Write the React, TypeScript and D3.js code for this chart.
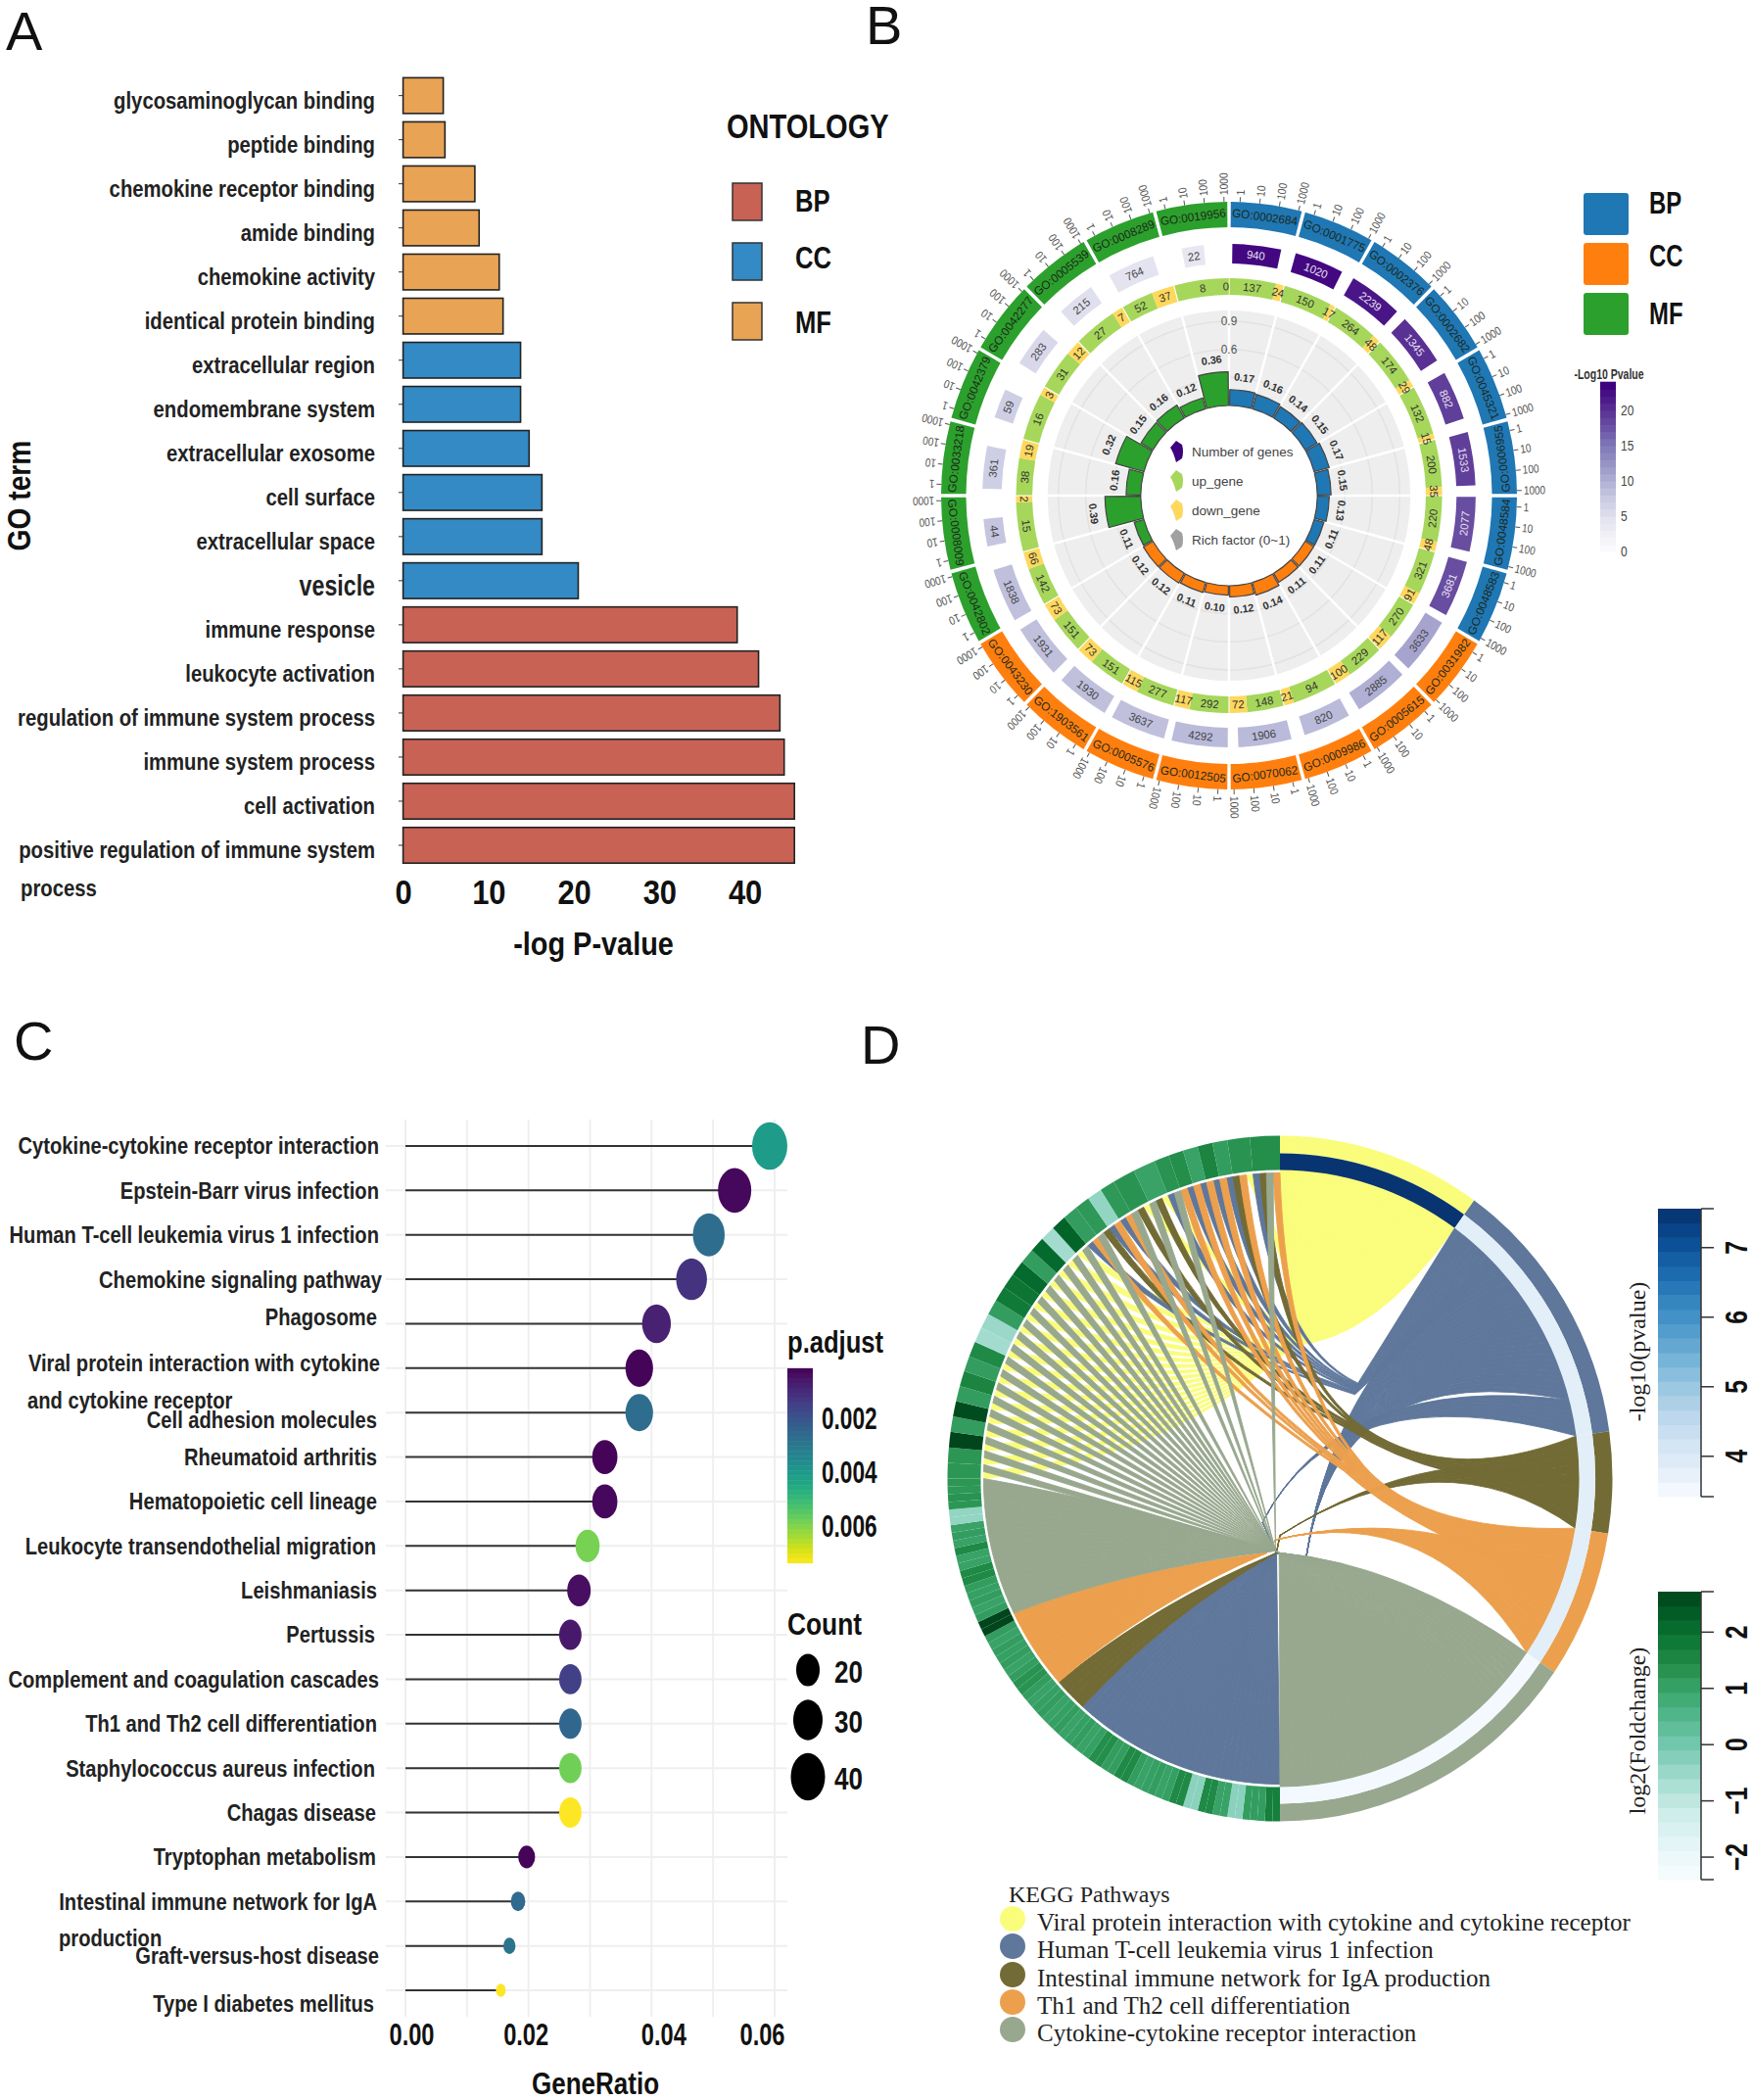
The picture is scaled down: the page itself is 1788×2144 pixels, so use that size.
import React, { useEffect, useRef } from "react";
import * as d3 from "d3";

// ---- panel A ----
const goTerms = [
  "glycosaminoglycan binding", "peptide binding", "chemokine receptor binding", "amide binding",
  "chemokine activity", "identical protein binding", "extracellular region", "endomembrane system",
  "extracellular exosome", "cell surface", "extracellular space", "vesicle", "immune response",
  "leukocyte activation", "regulation of immune system process", "immune system process",
  "cell activation", "positive regulation of immune system",
];
const goLogP = [4.7, 4.9, 8.4, 8.9, 11.25, 11.7, 13.75, 13.75, 14.75, 16.25, 16.25, 20.5, 39.1, 41.6, 44.1, 44.6, 45.8, 45.8];
const goOntology = ["MF", "MF", "MF", "MF", "MF", "MF", "CC", "CC", "CC", "CC", "CC", "CC", "BP", "BP", "BP", "BP", "BP", "BP"];
const ontologyNames = ["BP", "CC", "MF"];
const ontologyColorsA = ["#c86255", "#338ac4", "#e9a354"];

// ---- panel B ----
const circleIds = [
  "GO:0002684", "GO:0001775", "GO:0002376", "GO:0002682", "GO:0045321", "GO:0006955", "GO:0048584", "GO:0048583",
  "GO:0031982", "GO:0005615", "GO:0009986", "GO:0070062", "GO:0012505", "GO:0005576", "GO:1903561", "GO:0043230",
  "GO:0042802", "GO:0008009", "GO:0033218", "GO:0042379", "GO:0042277", "GO:0005539", "GO:0008289", "GO:0019956",
];
const circleGenes = [940, 1020, 2239, 1345, 882, 1533, 2077, 3681, 3633, 2885, 820, 1906, 4292, 3637, 1930, 1931, 1838, 44, 361, 59, 283, 215, 764, 22];
const circleLogP = [23, 23, 22, 20, 19, 19, 18, 18, 11, 10, 9, 9, 9, 8.5, 8.5, 8.5, 8.5, 8, 7, 7, 6, 5, 4.5, 4];
const circleUp = [137, 150, 264, 174, 132, 200, 220, 321, 270, 229, 94, 148, 292, 277, 151, 151, 142, 15, 38, 16, 31, 27, 52, 8];
const circleDown = [24, 17, 48, 29, 15, 35, 48, 91, 117, 100, 21, 72, 117, 115, 73, 73, 66, 2, 19, 3, 12, 7, 37, 0];
const circleRich = [0.17, 0.16, 0.14, 0.15, 0.17, 0.15, 0.13, 0.11, 0.11, 0.11, 0.14, 0.12, 0.10, 0.11, 0.12, 0.12, 0.11, 0.39, 0.16, 0.32, 0.15, 0.16, 0.12, 0.36];
const circleOntology = ["BP", "BP", "BP", "BP", "BP", "BP", "BP", "BP", "CC", "CC", "CC", "CC", "CC", "CC", "CC", "CC", "MF", "MF", "MF", "MF", "MF", "MF", "MF", "MF"];
const ontologyColorsB = ["#1f77b4", "#ff7f0e", "#2ca02c"];
const circleScale = [1, 10, 100, 1000];
const centerLegend = ["Number of genes", "up_gene", "down_gene", "Rich factor (0~1)"];
const centerLegendColors = ["#3f007d", "#a6d75b", "#fdd85d", "#a0a0a0"];

// ---- panel C ----
const keggTerms = [
  "Cytokine-cytokine receptor interaction", "Epstein-Barr virus infection", "Human T-cell leukemia virus 1 infection",
  "Chemokine signaling pathway", "Phagosome", "Viral protein interaction with cytokine", "Cell adhesion molecules",
  "Rheumatoid arthritis", "Hematopoietic cell lineage", "Leukocyte transendothelial migration", "Leishmaniasis",
  "Pertussis", "Complement and coagulation cascades", "Th1 and Th2 cell differentiation",
  "Staphylococcus aureus infection", "Chagas disease", "Tryptophan metabolism",
  "Intestinal immune network for IgA", "Graft-versus-host disease", "Type I diabetes mellitus",
];
const keggRatio = [0.0592, 0.0535, 0.0493, 0.0465, 0.0408, 0.038, 0.038, 0.0324, 0.0324, 0.0296, 0.0282, 0.0268, 0.0268, 0.0268, 0.0268, 0.0268, 0.0197, 0.0183, 0.0169, 0.0155];
const keggCount = [42, 38, 35, 33, 29, 27, 27, 23, 23, 21, 20, 19, 19, 19, 19, 19, 14, 13, 12, 11];
const keggPadj = [0.0041, 0.0003, 0.0027, 0.0012, 0.0008, 0.0002, 0.0027, 0.0002, 0.0003, 0.0059, 0.0004, 0.0006, 0.0015, 0.0025, 0.0058, 0.0074, 0.0002, 0.0026, 0.0029, 0.0074];
const ratioTicks = [0, 0.02, 0.04, 0.06];
const padjTicks = [0.002, 0.004, 0.006];
const countTicks = [20, 30, 40];

// ---- panel D ----
const pathwayNames = [
  "Viral protein interaction with cytokine and cytokine receptor",
  "Human T-cell leukemia virus 1 infection",
  "Intestinal immune network for IgA production",
  "Th1 and Th2 cell differentiation",
  "Cytokine-cytokine receptor interaction",
];
const pathwayColors = ["#fafd7c", "#5e779b", "#736b35", "#eca04d", "#98a88f"];
const pathwayCounts = [27, 35, 13, 19, 42];
const pathwayLogP = [7.5, 3.85, 3.85, 3.85, 3.5];
// genes clockwise from the bottom of the circle: runs of single-pathway genes, then pairs, then the mixed ones
const singleGeneRuns: [number, number][] = [[1, 32], [2, 5], [3, 12], [4, 20]];
const pairedGenes = 19;
const mixedGenes = [
  [1, 3], [4, 2], [1, 3], [1, 3], [4, 2, 0], [4, 2, 0], [1, 4], [3, 1], [3, 1], [3, 1], [3, 1], [2, 3, 0], [1, 2, 4, 3],
];
const geneLogFC = [
  1.7, 1.7, 1.1, 1.1, 1.1, -0.3, -0.3, 1.0, 1.0, 1.5, 1.5, -0.3, -0.3, 1.5, 1.5,
  1.05, 1.0, 1.1, 1.05, 1.0, 1.1,
  1.5, 1.5, 1.1, 1.1, 1.4, 1.4,
  1.05, 1.0, 1.1, 1.05, 1.0, 1.1, 1.05, 1.0, 1.1, 1.05, 1.0, 1.1,
  1.3, 1.3, 1.1, 1.0, 1.1, 1.05, 1.1, 1.0, 1.1,
  2.7, 2.7, 1.1, 1.0, 1.1, 1.05, 1.1, 1.5, 1.5, 1.0, 1.0, 1.5, 1.0, 1.1, 1.0, -0.4, -0.4, 1.25, 1.3, 1.2, 1.25,
  1.25, 1.25, 2.7, 1.1, 2.6, 1.1, 1.6, 1.1, 1.5, -0.6, -0.5, 1.1, 1.8, 1.9, 2.1, 1.1, 2.1, -0.6, 2.2,
  1.1, 1.2, -0.4, 1.2, 1.3, 1.0, 1.3, 1.4, 1.0, 1.6, 1.1, 1.3, 1.4,
];
const pvalTicks = [4, 5, 6, 7];
const fcTicks = [-2, -1, 0, 1, 2];

// Liberation Sans Narrow is not there, so the narrow labels are squeezed by hand
const SANS = "'Liberation Sans', sans-serif";
const SERIF = "'Liberation Serif', serif";
const rad = (deg: number) => (deg * Math.PI) / 180;
const squeeze = (x: number, y: number, k: number) => `translate(${x},${y}) scale(${k},1)`;

type Sel = d3.Selection<SVGGElement, unknown, null, undefined>;

const bold = (s: d3.Selection<any, any, any, any>, size: number | ((d: any) => number), fill = "#111") =>
  s.attr("font-family", SANS).attr("font-weight", "bold").attr("font-size", size as any).attr("fill", fill);

function drawPanelA(g: Sel) {
  const x = d3.scaleLinear().domain([0, 40]).range([411.6, 760.6]);
  const y = d3.scaleBand().domain(goTerms).range([75.1, 885.5]).paddingInner(0.19).paddingOuter(0.095);
  const color = d3.scaleOrdinal<string>().domain(ontologyNames).range(ontologyColorsA);

  g.append("g").selectAll("rect").data(goTerms).join("rect")
    .attr("x", x(0))
    .attr("y", (d) => y(d)!)
    .attr("width", (_, i) => x(goLogP[i]) - x(0))
    .attr("height", y.bandwidth())
    .attr("fill", (_, i) => color(goOntology[i]))
    .attr("stroke", "#222")
    .attr("stroke-width", 1.6);

  g.append("g").selectAll("line").data(goTerms).join("line")
    .attr("x1", 407).attr("x2", 411)
    .attr("y1", (d) => y(d)! + y.bandwidth() / 2)
    .attr("y2", (d) => y(d)! + y.bandwidth() / 2)
    .attr("stroke", "#333");

  g.append("g").selectAll("text").data(goTerms).join("text")
    .attr("transform", (d) => squeeze(383, y(d)! + y.bandwidth() / 2 + 5, d === "vesicle" ? 0.8 : 0.845))
    .attr("dy", "0.35em")
    .attr("text-anchor", "end")
    .call(bold, (d: string) => (d === "vesicle" ? 29 : 24), "#222")
    .text((d) => d);

  g.append("text").attr("transform", squeeze(21, 907, 0.845)).attr("dy", "0.35em")
    .call(bold, 24, "#222").text("process");

  const axis = g.append("g").attr("transform", "translate(0,895)")
    .call(d3.axisBottom(x).tickValues([0, 10, 20, 30, 40]).tickSize(0).tickPadding(2));
  axis.select(".domain").remove();
  axis.selectAll("text").attr("transform", "scale(0.86,1)").call(bold, 36);

  g.append("text").attr("transform", squeeze(606, 963, 0.85)).attr("dy", "0.35em").attr("text-anchor", "middle")
    .call(bold, 34).text("-log P-value");
  g.append("text").attr("transform", "translate(19,506) rotate(-90) scale(0.83,1)").attr("dy", "0.35em").attr("text-anchor", "middle")
    .call(bold, 34).text("GO term");

  g.append("text").attr("transform", squeeze(742, 129, 0.83)).attr("dy", "0.35em").call(bold, 35).text("ONTOLOGY");
  const legend = g.append("g").selectAll("g").data(ontologyNames).join("g")
    .attr("transform", (_, i) => `translate(748,${[187, 248, 309][i]})`);
  legend.append("rect").attr("width", 30).attr("height", 38)
    .attr("fill", (d) => color(d)).attr("stroke", "#333").attr("stroke-width", 1.5);
  legend.append("text").attr("transform", (_, i) => squeeze(64, [18, 15, 20][i], 0.8)).attr("dy", "0.35em")
    .call(bold, 32).text((d) => d);
}

function drawPanelB(root: Sel) {
  const g = root.append("g").attr("transform", "translate(1255,506) scale(0.98,1)");
  const sector = 15;
  const color = d3.scaleOrdinal<string>().domain(ontologyNames).range(ontologyColorsB);
  const purple = d3.scaleSequential(d3.interpolatePurples).domain([0, 23.6]);
  const arc = d3.arc<any>();
  const rich = d3.scaleLinear().domain([0, 0.9]).range([92, 178]);
  const items = circleIds.map((id, i) => ({ id, i, start: i * sector, mid: i * sector + sector / 2 }));

  const place = (r: number, a: number, flipFrom = 90, flipTo = 270) => {
    const rot = a > flipFrom && a < flipTo ? a - 180 : a;
    return `rotate(${a}) translate(0,${-r}) rotate(${rot - a})`;
  };

  // grey background of the rich factor track
  g.append("path").attr("d", arc({ innerRadius: 92, outerRadius: 189, startAngle: 0, endAngle: 2 * Math.PI })!).attr("fill", "#eeeeee");
  g.append("g").selectAll("circle").data([0.3, 0.6, 0.9]).join("circle")
    .attr("r", (d) => rich(d)).attr("fill", "none").attr("stroke", "#e2e2e2").attr("stroke-width", 1.5);
  g.append("g").selectAll("line").data(items).join("line")
    .attr("transform", (d) => `rotate(${d.start})`)
    .attr("y1", -92).attr("y2", -190).attr("stroke", "#fff").attr("stroke-width", 2.5);

  g.append("g").selectAll("text").data([0.9, 0.6]).join("text")
    .attr("y", (d) => -rich(d)).attr("dy", "0.35em").attr("text-anchor", "middle")
    .attr("font-family", SANS).attr("font-size", 12).attr("fill", "#555").text((d) => d);

  // rich factor bars
  g.append("g").selectAll("path").data(items).join("path")
    .attr("d", (d) => arc({
      innerRadius: 92, outerRadius: rich(circleRich[d.i]),
      startAngle: rad(d.start + 0.4), endAngle: rad(d.start + sector - 0.4),
    })!)
    .attr("fill", (d) => color(circleOntology[d.i])).attr("stroke", "#444").attr("stroke-width", 1.2);
  g.append("g").selectAll("text").data(items).join("text")
    .attr("transform", (d) => place(rich(circleRich[d.i]) + 13, d.mid, 100, 270))
    .attr("dy", "0.35em").attr("text-anchor", "middle")
    .call(bold, 11, "#333")
    .text((d) => circleRich[d.i].toFixed(2));

  // up / down ring
  const pieces = items.flatMap((d) => {
    const total = circleUp[d.i] + circleDown[d.i];
    const split = d.start + (sector * circleUp[d.i]) / total;
    return [
      { v: circleUp[d.i], a0: d.start + 0.15, a1: split, fill: "#a6d75b" },
      { v: circleDown[d.i], a0: split, a1: d.start + sector - 0.15, fill: "#fdd85d" },
    ];
  });
  g.append("g").selectAll("path").data(pieces).join("path")
    .attr("d", (d) => arc({ innerRadius: 205, outerRadius: 222, startAngle: rad(d.a0), endAngle: rad(d.a1) })!)
    .attr("fill", (d) => d.fill);
  g.append("g").selectAll("text").data(pieces).join("text")
    .attr("transform", (d) => place(213.5, d.v === 0 ? d.a0 - 0.9 : (d.a0 + d.a1) / 2))
    .attr("dy", "0.35em").attr("text-anchor", "middle")
    .attr("font-family", SANS).attr("font-size", 11.5).attr("fill", "#333")
    .text((d) => d.v);

  // number of genes ring
  const geneSpan = (d: { i: number; start: number; mid: number }) => {
    const w = Math.log10(circleGenes[d.i]) * 3.85;
    return [Math.max(d.start + 0.3, d.mid - 1 - w / 2), Math.min(d.start + sector - 0.3, d.mid - 1 + w / 2)];
  };
  g.append("g").selectAll("path").data(items).join("path")
    .attr("d", (d) => {
      const [a0, a1] = geneSpan(d);
      return arc({ innerRadius: 237, outerRadius: 257, startAngle: rad(a0), endAngle: rad(a1) })!;
    })
    .attr("fill", (d) => purple(circleLogP[d.i]));
  g.append("g").selectAll("text").data(items).join("text")
    .attr("transform", (d) => {
      const [a0, a1] = geneSpan(d);
      return place(247, (a0 + a1) / 2);
    })
    .attr("dy", "0.35em").attr("text-anchor", "middle")
    .attr("font-family", SANS).attr("font-size", 11.5)
    .attr("fill", (d) => (circleLogP[d.i] > 15 ? "#e8e0f0" : "#444"))
    .text((d) => circleGenes[d.i]);

  // GO ring
  g.append("g").selectAll("path").data(items).join("path")
    .attr("d", (d) => arc({ innerRadius: 274, outerRadius: 300, startAngle: rad(d.start + 0.35), endAngle: rad(d.start + sector - 0.35) })!)
    .attr("fill", (d) => color(circleOntology[d.i]));
  g.append("g").selectAll("text").data(items).join("text")
    .attr("transform", (d) => place(287, d.mid, 80, 270))
    .attr("dy", "0.35em").attr("text-anchor", "middle")
    .attr("font-family", SANS).attr("font-size", 12).attr("fill", "#1c2a1c")
    .text((d) => d.id);

  // log scale ticks on each sector
  const logPos = d3.scaleLog().domain([1, 1000]).range([2.2, 14]);
  const ticks = items.flatMap((d) => circleScale.map((v) => ({ v, a: d.start + logPos(v) })));
  const tick = g.append("g").selectAll("g").data(ticks).join("g")
    .attr("transform", (d) => `rotate(${d.a}) translate(0,-300)`);
  tick.append("line").attr("y2", -5).attr("stroke", "#555");
  tick.append("text").attr("transform", "translate(0,-7) rotate(-90) scale(0.85,1)").attr("dy", "0.35em")
    .attr("font-family", SANS).attr("font-size", 12).attr("fill", "#555")
    .text((d) => d.v);

  // legends on the right and in the middle
  const legend = root.append("g").selectAll("g").data(ontologyNames).join("g")
    .attr("transform", (_, i) => `translate(1617,${[197, 248, 299][i]})`);
  legend.append("rect").attr("width", 46).attr("height", 43).attr("rx", 3).attr("fill", (d) => color(d));
  legend.append("text").attr("transform", (_, i) => squeeze(67, [10, 13, 21][i], 0.77)).attr("dy", "0.35em")
    .call(bold, 31).text((d) => d);

  const center = root.append("g").selectAll("g").data(centerLegend).join("g")
    .attr("transform", (_, i) => `translate(1201,${[461, 491, 521, 551][i]})`);
  center.append("path").attr("d", "M0,-11 L6,-7 Q8,0 6,7 L0,11 Q-3,0 -6,-4 Z")
    .attr("fill", (_, i) => centerLegendColors[i]);
  center.append("text").attr("x", 16).attr("dy", "0.35em").attr("font-family", SANS)
    .attr("font-size", 13.5).attr("fill", "#444").text((d) => d);

  const barY = d3.scaleLinear().domain([0, 20]).range([563, 419]);
  const bar = root.append("g");
  d3.range(24).forEach((k) => {
    bar.append("rect").attr("x", 1634).attr("width", 16).attr("y", barY(k + 1) - 0.5).attr("height", barY(k) - barY(k + 1) + 1)
      .attr("fill", purple(k + 0.5));
  });
  bar.append("g").selectAll("text").data([0, 5, 10, 15, 20]).join("text")
    .attr("transform", (d) => squeeze(1655, barY(d), 0.8)).attr("dy", "0.35em")
    .attr("font-family", SANS).attr("font-size", 15).attr("fill", "#444").text((d) => d);
  bar.append("text").attr("transform", squeeze(1643, 382, 0.7)).attr("dy", "0.35em").attr("text-anchor", "middle")
    .call(bold, 15, "#333").text("-Log10 Pvalue");
}

function drawPanelC(g: Sel) {
  const x = d3.scaleLinear().domain([0, 0.06]).range([414, 791]);
  const y = d3.scalePoint().domain(keggTerms).range([1170, 2032]);
  const color = d3.scaleSequential(d3.interpolateViridis).domain([0.00014, 0.00737]);
  const size = d3.scaleLinear().domain([11, 14, 20, 30, 42]).range([5, 8.6, 12, 15, 18]);

  g.append("g").selectAll("line").data(d3.range(0, 0.0601, 0.01)).join("line")
    .attr("x1", (d) => x(d)).attr("x2", (d) => x(d)).attr("y1", 1143).attr("y2", 2059)
    .attr("stroke", "#efefef").attr("stroke-width", 2);
  g.append("g").selectAll("line").data(keggTerms).join("line")
    .attr("x1", 394).attr("x2", 804).attr("y1", (d) => y(d)!).attr("y2", (d) => y(d)!)
    .attr("stroke", "#efefef").attr("stroke-width", 2);
  g.append("g").selectAll("line").data(keggTerms).join("line")
    .attr("x1", x(0)).attr("x2", (_, i) => x(keggRatio[i])).attr("y1", (d) => y(d)!).attr("y2", (d) => y(d)!)
    .attr("stroke", "#333").attr("stroke-width", 2);
  g.append("g").selectAll("ellipse").data(keggTerms).join("ellipse")
    .attr("cx", (_, i) => x(keggRatio[i])).attr("cy", (d) => y(d)!)
    .attr("rx", (_, i) => size(keggCount[i])).attr("ry", (_, i) => size(keggCount[i]) * 1.35)
    .attr("fill", (_, i) => color(keggPadj[i]));

  // the term labels sit a little off their rows in the figure
  const shiftY = [0, 0, 0, 0, -7, -5, 7, 0, 0, 0, 0, 0, 0, 0, 0, 0, 0, 0, 10, 14];
  const shiftX = [0, 0, 0, 3, -2, 1, -2, -2, -2, -3, -2, -4, 0, -2, -4, -3, -3, -2, 0, -5];
  g.append("g").selectAll("text").data(keggTerms).join("text")
    .attr("transform", (d, i) => squeeze(387 + shiftX[i], y(d)! + shiftY[i], 0.84)).attr("dy", "0.35em")
    .attr("text-anchor", "end").call(bold, 24, "#222").text((d) => d);
  g.append("text").attr("transform", squeeze(28, 1430, 0.84)).attr("dy", "0.35em").call(bold, 24, "#222").text("and cytokine receptor");
  g.append("text").attr("transform", squeeze(60, 1979, 0.84)).attr("dy", "0.35em").call(bold, 24, "#222").text("production");

  const tickShift = [6, -3, 12, -13];
  const axis = g.append("g").attr("transform", "translate(0,2058)")
    .call(d3.axisBottom(x).tickValues(ratioTicks).tickSize(0).tickFormat(d3.format(".2f")));
  axis.select(".domain").remove();
  axis.selectAll("text").attr("transform", (_, i) => `translate(${tickShift[i]},4) scale(0.74,1)`).call(bold, 32);

  g.append("text").attr("transform", squeeze(608, 2127, 0.84)).attr("dy", "0.35em").attr("text-anchor", "middle")
    .call(bold, 31).text("GeneRatio");

  // p.adjust colour bar
  g.append("text").attr("transform", squeeze(804, 1370, 0.8)).attr("dy", "0.35em").call(bold, 32).text("p.adjust");
  const barY = d3.scaleLinear().domain([0.002, 0.006]).range([1448, 1558]);
  const [p0, p1] = [0.00014, 0.00737];
  d3.range(40).forEach((k) => {
    const a = p0 + ((p1 - p0) * k) / 40;
    const b = p0 + ((p1 - p0) * (k + 1)) / 40;
    g.append("rect").attr("x", 804).attr("width", 26).attr("y", barY(a)).attr("height", barY(b) - barY(a) + 0.5)
      .attr("fill", color((a + b) / 2));
  });
  g.append("g").selectAll("text").data(padjTicks).join("text")
    .attr("transform", (d) => squeeze(839, barY(d), 0.73)).attr("dy", "0.35em")
    .call(bold, 31).text((d) => d3.format(".3f")(d));

  g.append("text").attr("transform", squeeze(804, 1658, 0.85)).attr("dy", "0.35em").call(bold, 31).text("Count");
  const cy = [1705, 1756, 1814];
  g.append("g").selectAll("ellipse").data(countTicks).join("ellipse")
    .attr("cx", 825).attr("cy", (_, i) => cy[i]).attr("rx", (d) => size(d)).attr("ry", (d) => size(d) * 1.38).attr("fill", "#000");
  g.append("g").selectAll("text").data(countTicks).join("text")
    .attr("transform", (_, i) => squeeze(852, cy[i] + 2, 0.84)).attr("dy", "0.35em")
    .call(bold, 31).text((d) => d);
}

function drawPanelD(root: Sel) {
  const squash = 0.97;
  const g = root.append("g").attr("transform", `translate(1307,1509.5) scale(${squash},1)`);
  const arc = d3.arc<any>();
  const rOut = 350, rMid = 332, rIn = 315, rChord = 312;
  const fc = d3.scaleSequential(d3.interpolateBuGn).domain([-2.4, 2.72]);
  const blues = d3.scaleSequential(d3.interpolateBlues).domain([3.42, 7.56]);

  const Z = 2.24;
  const z = (p: number[]) => [(p[0] - 800) / Z / squash, (p[1] - 805) / Z];
  const rim = (r: number, deg: number) => [r * Math.sin(rad(deg)), -r * Math.cos(rad(deg))];
  const mid = (a: number[], b: number[]) => [(a[0] + b[0]) / 2, (a[1] + b[1]) / 2];
  const bend = (p: number[], A: number[]) => {
    const s = Math.min(1, Math.abs(A[0]) / 100);
    return [p[0] - (35 * s) / Z, p[1] - (30 * s) / Z];
  };

  // pathway sections on the right half
  const perCount = 180 / d3.sum(pathwayCounts);
  const sections: [number, number][] = [];
  pathwayCounts.reduce((acc, c) => {
    sections.push([acc, acc + c * perCount]);
    return acc + c * perCount;
  }, 0);

  // genes on the left half
  const genes: { set: number[]; kind: string }[] = [];
  singleGeneRuns.forEach(([p, n]) => d3.range(n).forEach(() => genes.push({ set: [p], kind: "single" })));
  d3.range(pairedGenes).forEach(() => genes.push({ set: [0, 4], kind: "pair" }));
  mixedGenes.forEach((m) => genes.push({ set: m, kind: "mix" }));
  const perUnit = 180 / d3.sum(genes, (d) => d.set.length);

  const mixTotals = pathwayCounts.map((_, p) => genes.filter((m) => m.kind === "mix" && m.set.includes(p)).length);
  const singleTotals = pathwayCounts.map((_, p) => genes.filter((m) => m.kind === "single" && m.set.includes(p)).length);

  // where a ribbon pinches on its way across, per pathway; edge is +0.5 / -0.5 for the two sides of a ribbon
  const route = (p: number, kind: string, idx: number, edge: number, A: number[], B: number[]) => {
    const single = kind === "single";
    if (p === 0) {
      const w = z([830, 500]);
      return { wl: w, wr: w, lc: [mid(A, w)[0] + 88 / Z, mid(A, w)[1] + 105 / Z], rc: [mid(w, B)[0], w[1] - 10 / Z] };
    }
    if (p === 4) {
      const wl = z([790, 970]), wr = z([798, 975]);
      return { wl, wr, lc: single ? bend(mid(A, wl), A) : mid(A, wl), rc: [mid(wr, B)[0], wr[1] + 25 / Z] };
    }
    if (single) {
      const wl = z(p === 3 ? [770, 975] : [792, 975]);
      const wr = z(p === 1 ? (idx < 6 ? [760, 905] : [860, 985]) : p === 2 ? [800, 935] : [790, 945]);
      const rc = z(p === 1 ? (idx < 6 ? [940, 560] : [930, 520]) : p === 2 ? [1170, 700] : [1150, 860]);
      return { wl, wr, lc: bend(mid(A, wl), A), rc };
    }
    // mixed genes run as a band, not a point, through the middle
    const k = idx - singleTotals[p] - (mixTotals[p] - 1) / 2 + edge;
    const wr = z(
      p === 1
        ? [975 + 0.26 * 3 * k, 600 - 0.96 * 3 * k]
        : p === 2
          ? [960 + 0.6 * 5 * k, 680 - 0.8 * 5 * k]
          : [960 + 0.6 * 5 * k, 770 - 0.8 * 5 * k],
    );
    const rc = p === 1 ? mid(wr, B) : z(p === 2 ? [1170, 830] : [1100, 930]);
    const lcY = z([0, p === 1 ? 500 : p === 2 ? 530 : 560])[1];
    return { wl: wr, wr, lc: [7 + 0.5 * A[0], lcY], rc };
  };

  const seen = pathwayCounts.map(() => 0);
  const totals = pathwayCounts.map((_, p) => genes.filter((m) => m.set.includes(p)).length);
  const ribbons: { p: number; d: string }[] = [];
  let cursor = 180;
  genes.forEach((gene, gi) => {
    const start = cursor;
    gene.set.forEach((p) => {
      const a0 = cursor, a1 = cursor + perUnit;
      cursor = a1;
      const w = (sections[p][1] - sections[p][0]) / totals[p];
      const pHigh = sections[p][1] - seen[p] * w;
      const pLow = pHigh - w;
      const idx = seen[p];
      seen[p] += 1;
      const A0 = rim(rChord, a0), A1 = rim(rChord, a1), B0 = rim(rIn, pLow), B1 = rim(rIn, pHigh);
      const ra = route(p, gene.kind, idx, 0.5, A1, B0);
      const rb = route(p, gene.kind, idx, -0.5, A0, B1);
      const path = d3.path();
      path.moveTo(A0[0], A0[1]);
      path.lineTo(A1[0], A1[1]);
      path.quadraticCurveTo(ra.lc[0], ra.lc[1], ra.wl[0], ra.wl[1]);
      path.lineTo(ra.wr[0], ra.wr[1]);
      path.quadraticCurveTo(ra.rc[0], ra.rc[1], B0[0], B0[1]);
      path.lineTo(B1[0], B1[1]);
      path.quadraticCurveTo(rb.rc[0], rb.rc[1], rb.wr[0], rb.wr[1]);
      path.lineTo(rb.wl[0], rb.wl[1]);
      path.quadraticCurveTo(rb.lc[0], rb.lc[1], A0[0], A0[1]);
      path.closePath();
      ribbons.push({ p, d: path.toString() });
    });
    g.append("path")
      .attr("d", arc({ innerRadius: rIn, outerRadius: rOut, startAngle: rad(start), endAngle: rad(cursor) })!)
      .attr("fill", fc(geneLogFC[gi]));
  });

  // draw in pathway order so the big grey-green one ends on top
  const chords = g.append("g");
  d3.range(pathwayNames.length).forEach((p) => {
    chords.append("g").selectAll("path").data(ribbons.filter((r) => r.p === p)).join("path")
      .attr("d", (d) => d.d).attr("fill", pathwayColors[p]).attr("stroke", pathwayColors[p]).attr("stroke-width", 0.9);
  });

  g.append("g").selectAll("path").data(sections).join("path")
    .attr("d", (d) => arc({ innerRadius: rMid, outerRadius: rOut, startAngle: rad(d[0]), endAngle: rad(d[1]) })!)
    .attr("fill", (_, i) => pathwayColors[i]);
  g.append("g").selectAll("path").data(sections).join("path")
    .attr("d", (d) => arc({ innerRadius: rIn, outerRadius: rMid, startAngle: rad(d[0]), endAngle: rad(d[1]) })!)
    .attr("fill", (_, i) => blues(pathwayLogP[i]));

  // colour bars
  const colorBar = (scale: (v: number) => string, domain: [number, number], y0: number, y1: number, ticks: number[], title: string, titleY: number) => {
    const yy = d3.scaleLinear().domain(domain).range([y1, y0]);
    const bar = root.append("g");
    d3.range(20).forEach((k) => {
      const a = domain[0] + ((domain[1] - domain[0]) * k) / 20;
      const b = domain[0] + ((domain[1] - domain[0]) * (k + 1)) / 20;
      bar.append("rect").attr("x", 1693).attr("width", 44).attr("y", yy(b)).attr("height", yy(a) - yy(b) + 0.5)
        .attr("fill", scale((a + b) / 2));
    });
    bar.append("line").attr("x1", 1737).attr("x2", 1737).attr("y1", y0).attr("y2", y1).attr("stroke", "#333").attr("stroke-width", 1.5);
    bar.append("g").selectAll("line").data([domain[0], ...ticks, domain[1]]).join("line")
      .attr("x1", 1737).attr("x2", 1750).attr("y1", (d) => yy(d)).attr("y2", (d) => yy(d)).attr("stroke", "#333").attr("stroke-width", 1.5);
    bar.append("g").selectAll("text").data(ticks).join("text")
      .attr("transform", (d) => `translate(1773,${yy(d)}) rotate(-90) scale(0.8,1)`).attr("dy", "0.35em").attr("text-anchor", "middle")
      .call(bold, 31)
      .text((d) => (d < 0 ? "\u2212" + Math.abs(d) : d));
    bar.append("text").attr("transform", `translate(1672,${titleY}) rotate(-90)`).attr("dy", "0.35em").attr("text-anchor", "middle")
      .attr("font-family", SERIF).attr("font-size", 24).attr("fill", "#222").text(title);
  };
  colorBar(blues, [3.42, 7.56], 1234, 1528, pvalTicks, "-log10(pvalue)", 1380);
  colorBar(fc, [-2.4, 2.72], 1625, 1919, fcTicks, "log2(Foldchange)", 1767);

  // pathway legend
  const legend = root.append("g");
  legend.append("text").attr("x", 1030).attr("y", 1934).attr("dy", "0.35em")
    .attr("font-family", SERIF).attr("font-size", 24).attr("fill", "#222").text("KEGG Pathways");
  const item = legend.append("g").selectAll("g").data(pathwayNames).join("g")
    .attr("transform", (_, i) => `translate(1034,${[1959, 1987, 2016, 2044, 2072][i]})`);
  item.append("circle").attr("r", 13).attr("fill", (_, i) => pathwayColors[i]);
  item.append("text").attr("x", 25).attr("y", 3).attr("dy", "0.35em")
    .attr("font-family", SERIF).attr("font-size", 25).attr("fill", "#222").text((d) => d);
}

const App: React.FC = () => {
  const svgRef = useRef<SVGSVGElement | null>(null);

  useEffect(() => {
    if (!svgRef.current) return;
    const svg = d3.select(svgRef.current);
    svg.selectAll("*").remove();
    const root = svg.append("g") as unknown as Sel;

    root.append("g").selectAll("text")
      .data([["A", 6, 51], ["B", 884, 45], ["C", 14, 1082], ["D", 879, 1086]])
      .join("text")
      .attr("x", (d) => d[1]).attr("y", (d) => d[2])
      .attr("font-family", SANS).attr("font-size", 56).attr("fill", "#111")
      .text((d) => d[0]);

    drawPanelA(root.append("g") as unknown as Sel);
    drawPanelB(root.append("g") as unknown as Sel);
    drawPanelC(root.append("g") as unknown as Sel);
    drawPanelD(root.append("g") as unknown as Sel);
  }, []);

  return (
    <svg
      ref={svgRef}
      width={1788}
      height={2144}
      style={{ position: "absolute", left: 0, top: 0, background: "#fff" }}
    />
  );
};

export default App;
